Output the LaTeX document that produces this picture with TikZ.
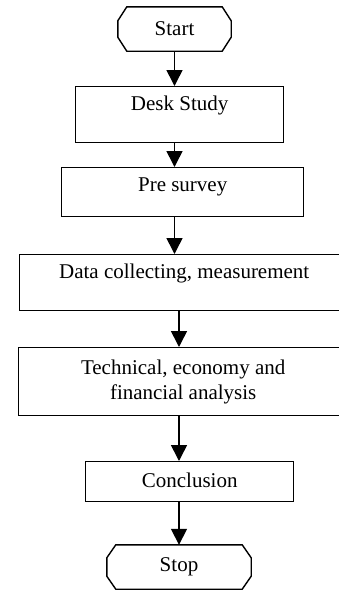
\documentclass[tikz,border=0pt]{standalone}
\usepackage{fontspec}
\setmainfont{Liberation Serif}
\usetikzlibrary{
    arrows.meta
}

\tikzset{
    stepbox/.style={
        draw,
        rectangle,
        line width=1.4pt,
        inner sep=0pt,
        anchor=north west,
        font=\fontsize{21}{25}\selectfont
    },
    endbox/.style={
        rectangle,
        inner sep=0pt,
        minimum height=44pt,
        font=\fontsize{21}{25}\selectfont
    },
    arr/.style={
        -{Triangle[width=16pt,length=16pt]},
        line width=1.6pt
    }
}

\begin{document}
\begin{tikzpicture}[x=1pt, y=-1pt]
    \useasboundingbox (0,0) rectangle (339,590);

    \node[endbox, minimum width=113pt] (start) at (174.5,29) {Start};
    \node[stepbox, minimum width=208pt, text height=24pt, text depth=32pt] (desk) at (75,86) {Desk Study};
    \node[stepbox, minimum width=242pt, text height=24pt, text depth=25pt] (pre) at (61,167) {Pre survey};
    \node[stepbox, minimum width=329pt, text height=24pt, text depth=32pt] (data) at (19,254) {Data collecting, measurement};
    \node[stepbox, minimum width=329pt, minimum height=68pt, align=center] (tech) at (18,347) {Technical, economy and\\financial analysis};
    \node[stepbox, minimum width=208pt, text height=26pt, text depth=14pt] (concl) at (85,461) {Conclusion};
    \node[endbox, minimum width=144pt] (stop) at (179,567) {Stop};

    % cut corners of start and stop
    \draw[line width=1.4pt] ([xshift=9pt]start.north west) -- ([xshift=-9pt]start.north east)
        -- ([yshift=-14pt]start.north east) -- ([yshift=14pt]start.south east)
        -- ([xshift=-9pt]start.south east) -- ([xshift=9pt]start.south west)
        -- ([yshift=14pt]start.south west) -- ([yshift=-14pt]start.north west) -- cycle;
    \draw[line width=1.4pt] ([xshift=9pt]stop.north west) -- ([xshift=-9pt]stop.north east)
        -- ([yshift=-13pt]stop.north east) -- ([yshift=13pt]stop.south east)
        -- ([xshift=-9pt]stop.south east) -- ([xshift=9pt]stop.south west)
        -- ([yshift=13pt]stop.south west) -- ([yshift=-13pt]stop.north west) -- cycle;

    \draw[arr] (start.south) -- (desk.north -| start);
    \draw[arr] (desk.south -| start) -- (pre.north -| start);
    \draw[arr] (pre.south -| start) -- (data.north -| start);
    \draw[arr] (data.south -| stop) -- (tech.north -| stop);
    \draw[arr] (tech.south -| stop) -- (concl.north -| stop);
    \draw[arr] (concl.south -| stop) -- (stop.north);
\end{tikzpicture}
\end{document}
